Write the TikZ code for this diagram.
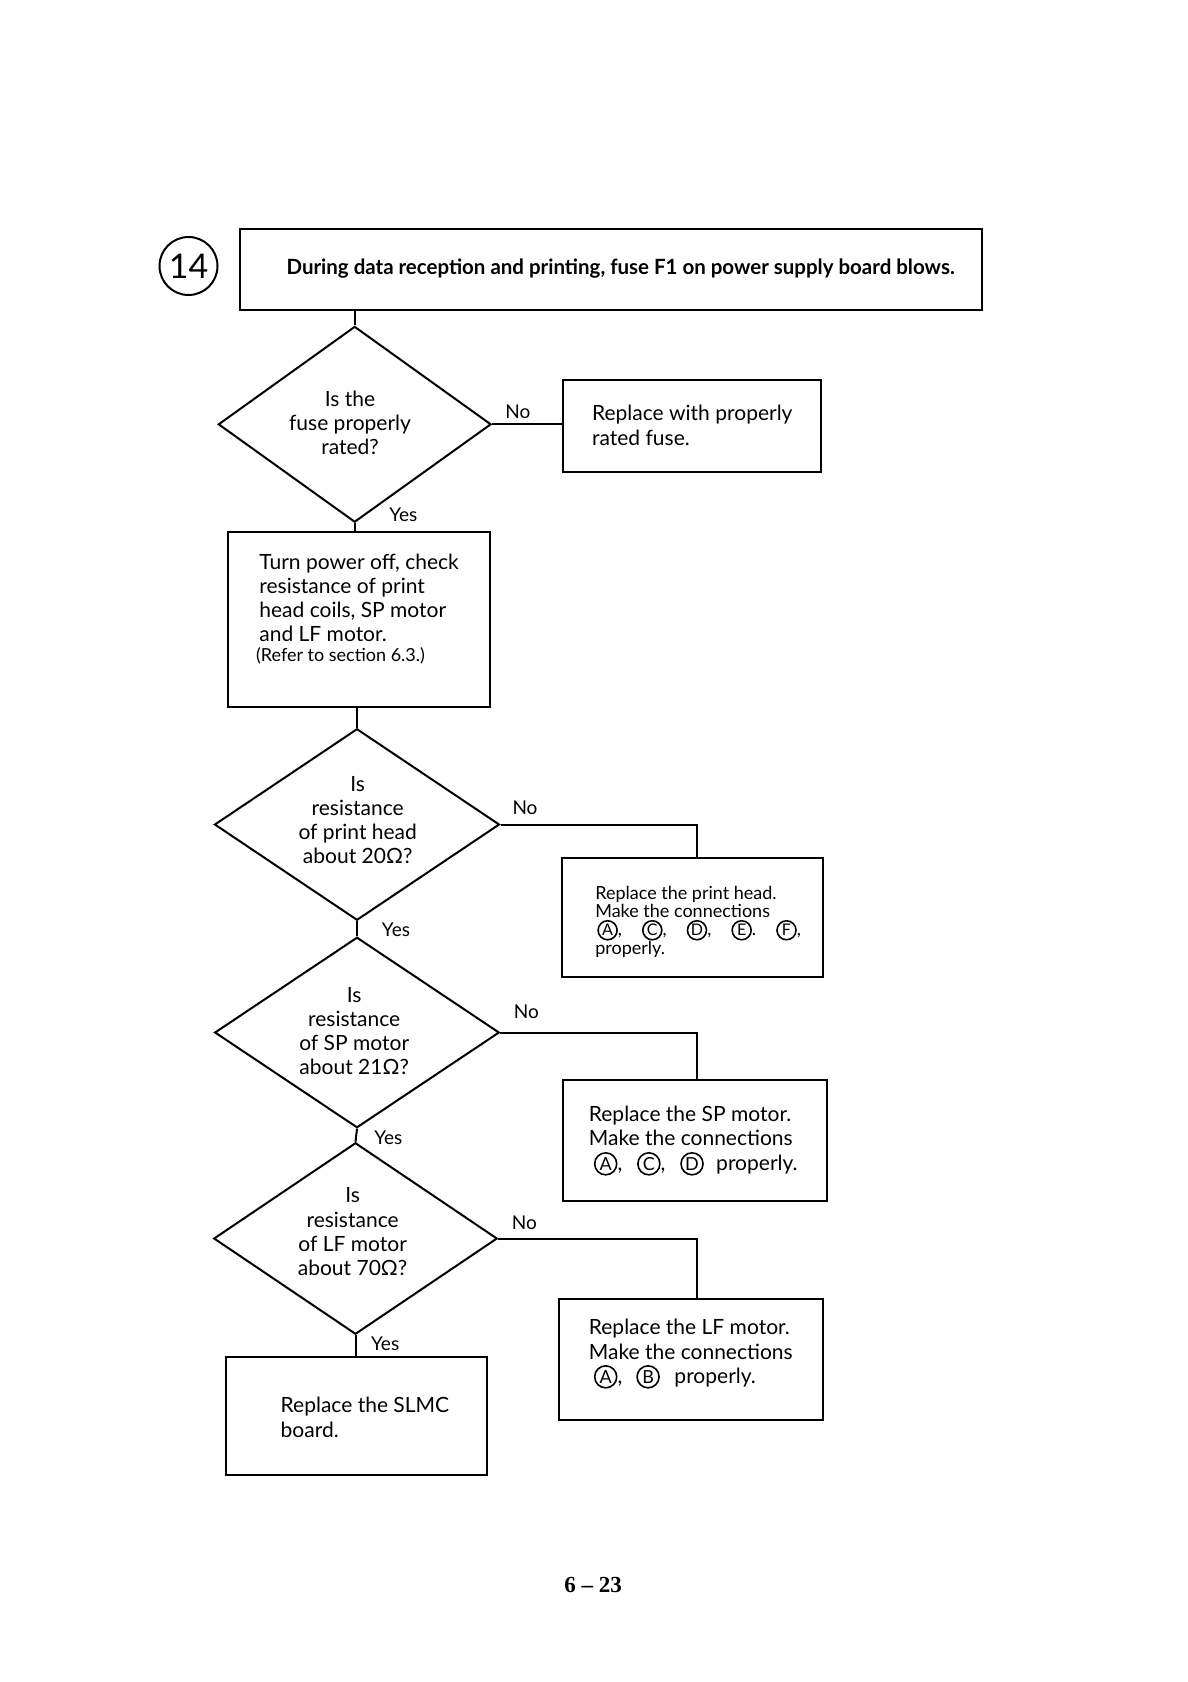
\documentclass[tikz,border=0pt]{standalone}
\usepackage{fontspec}
\usepackage{graphicx}
\setmainfont{Lato}
\newfontfamily\pnumfont{Liberation Serif}
\usetikzlibrary{shapes.geometric}
\newcommand{\cletter}[3]{\tikz[baseline=(cl.base)]\node[circle,draw,line width=0.8pt,inner sep=0pt,minimum size=#1,font=\fontsize{#2}{#2}\selectfont] (cl) {#3};}
\begin{document}
\begin{tikzpicture}[x=0.5pt,y=-0.5pt,
  box/.style={draw,line width=1pt,rectangle,inner sep=0pt},
  dia/.style={draw,line width=1pt,diamond,inner sep=0pt},
  conn/.style={line width=1pt},
  body/.style={font=\fontsize{10.5}{12}\selectfont,inner sep=0pt},
  small/.style={font=\fontsize{9}{9.1}\selectfont,inner sep=0pt},
  lab/.style={font=\fontsize{9.5}{11}\selectfont,inner sep=0pt}]
\useasboundingbox (0,0) rectangle (1188,1682);

% number circle and title
\node[circle,draw,line width=1pt,minimum size=29pt,inner sep=0pt,font=\fontsize{17}{17}\selectfont] (num) at (188.5,266) {14};
\node[box,minimum width=371.3pt,minimum height=40.25pt] (title) at (611,269.25) {};
\node[inner sep=0pt] (titlet) at (620.6,268.5) {\resizebox{334pt}{\height}{\fontsize{10.5}{12}\selectfont\bfseries During data reception and printing, fuse F1 on power supply board blows.}};

% diamonds
\node[dia,minimum width=136.4pt,minimum height=97.9pt] (d1) at (354.7,424.3) {};
\node[dia,minimum width=142.5pt,minimum height=95.75pt] (d2) at (357,824.5) {};
\node[dia,minimum width=142.3pt,minimum height=95.25pt] (d3) at (357,1032.5) {};
\node[dia,minimum width=141.75pt,minimum height=95.75pt] (d4) at (355.5,1238.5) {};

\node[body,align=center] (d1t) at (350,423.3) {Is the\\fuse properly\\rated?};
\node[body,align=center,font=\fontsize{10.5}{11.95}\selectfont] (d2t) at (357.7,820.2) {Is\\resistance\\of print head\\about 20Ω?};
\node[body,align=center,font=\fontsize{10.5}{11.95}\selectfont] (d3t) at (354.2,1030.9) {Is\\resistance\\of SP motor\\about 21Ω?};
\node[body,align=center,font=\fontsize{10.5}{12.15}\selectfont] (d4t) at (352.6,1231.85) {Is\\resistance\\of LF motor\\about 70Ω?};

% boxes
\node[box,minimum width=128.95pt,minimum height=46pt] (b2) at (691.75,425.9) {};
\node[box,minimum width=131.1pt,minimum height=87.75pt] (b3) at (359,619.55) {};
\node[box,minimum width=130.5pt,minimum height=59.4pt] (b4) at (692.3,917.5) {};
\node[box,minimum width=132pt,minimum height=60.5pt] (b5) at (695,1140.5) {};
\node[box,minimum width=132.15pt,minimum height=60.5pt] (b6) at (690.65,1359.5) {};
\node[box,minimum width=130.75pt,minimum height=59pt] (b7) at (356.25,1416) {};

\node[body,align=left,anchor=west,font=\fontsize{10.5}{12.3}\selectfont] (b2t) at (591.7,425.3) {Replace with properly\\rated fuse.};
\node[body,align=left,anchor=west,font=\fontsize{10.5}{11.95}\selectfont] (b3t) at (259,597.6) {Turn power off, check\\resistance of print\\head coils, SP motor\\and LF motor.};
\node[inner sep=0pt,anchor=west,font=\fontsize{9}{10}\selectfont] (b3r) at (255.7,655.9) {(Refer to section 6.3.)};
\node[small,align=left,anchor=west] (b4t) at (594.9,921.8) {Replace the print head.\\Make the connections\\\hspace*{1pt}\cletter{9.5pt}{8}{A},\hspace{10pt}\cletter{9.5pt}{8}{C},\hspace{10pt}\cletter{9.5pt}{8}{D},\hspace{10pt}\cletter{9.5pt}{8}{E}.\hspace{10pt}\cletter{9.5pt}{8}{F},\\properly.};
\node[body,align=left,anchor=west,font=\fontsize{10.5}{12.3}\selectfont] (b5t) at (588.5,1140.6) {Replace the SP motor.\\Make the connections\\\hspace*{2.5pt}\cletter{11pt}{9}{A},\hspace{7.4pt}\cletter{11pt}{9}{C},\hspace{7.4pt}\cletter{11pt}{9}{D}\hspace{6.2pt}properly.};
\node[body,align=left,anchor=west,font=\fontsize{10.5}{12.1}\selectfont] (b6t) at (588.5,1354) {Replace the LF motor.\\Make the connections\\\hspace*{2.5pt}\cletter{11pt}{9}{A},\hspace{7pt}\cletter{11pt}{9}{B}\hspace{7.3pt}properly.};
\node[body,align=left,anchor=west,font=\fontsize{10.5}{12.25}\selectfont] (b7t) at (280.3,1417.25) {Replace the SLMC\\board.};

% connectors
\draw[conn] (d1.north) -- (d1.north |- title.south);
\draw[conn] (d1.east) -- (d1.east -| b2.west);
\draw[conn] (d1.south) -- (d1.south |- b3.north);
\draw[conn] (d2.north) -- (d2.north |- b3.south);
\draw[conn] (d2.east) -| ([xshift=2.15pt]b4.north);
\draw[conn] (d2.south) -- (d3.north);
\draw[conn] (d3.east) -| ([xshift=0.8pt]b5.north);
\draw[conn] (d3.south) -- (d4.north);
\draw[conn] (d4.east) -| ([xshift=3pt]b6.north);
\draw[conn] (d4.south) -- (d4.south |- b7.north);

% labels
\node[lab] (no1) at (517.9,412) {No};
\node[lab] (yes1) at (403.4,514.7) {Yes};
\node[lab] (no2) at (525,808) {No};
\node[lab] (yes2) at (396,930) {Yes};
\node[lab] (no3) at (526.4,1012.2) {No};
\node[lab] (yes3) at (388.4,1137.4) {Yes};
\node[lab] (no4) at (524.3,1223) {No};
\node[lab] (yes4) at (385.2,1344) {Yes};

% page number
\node[inner sep=0pt,font=\pnumfont\fontsize{11.5}{13}\selectfont\bfseries] (page) at (593,1585) {6 – 23};
\end{tikzpicture}
\end{document}
